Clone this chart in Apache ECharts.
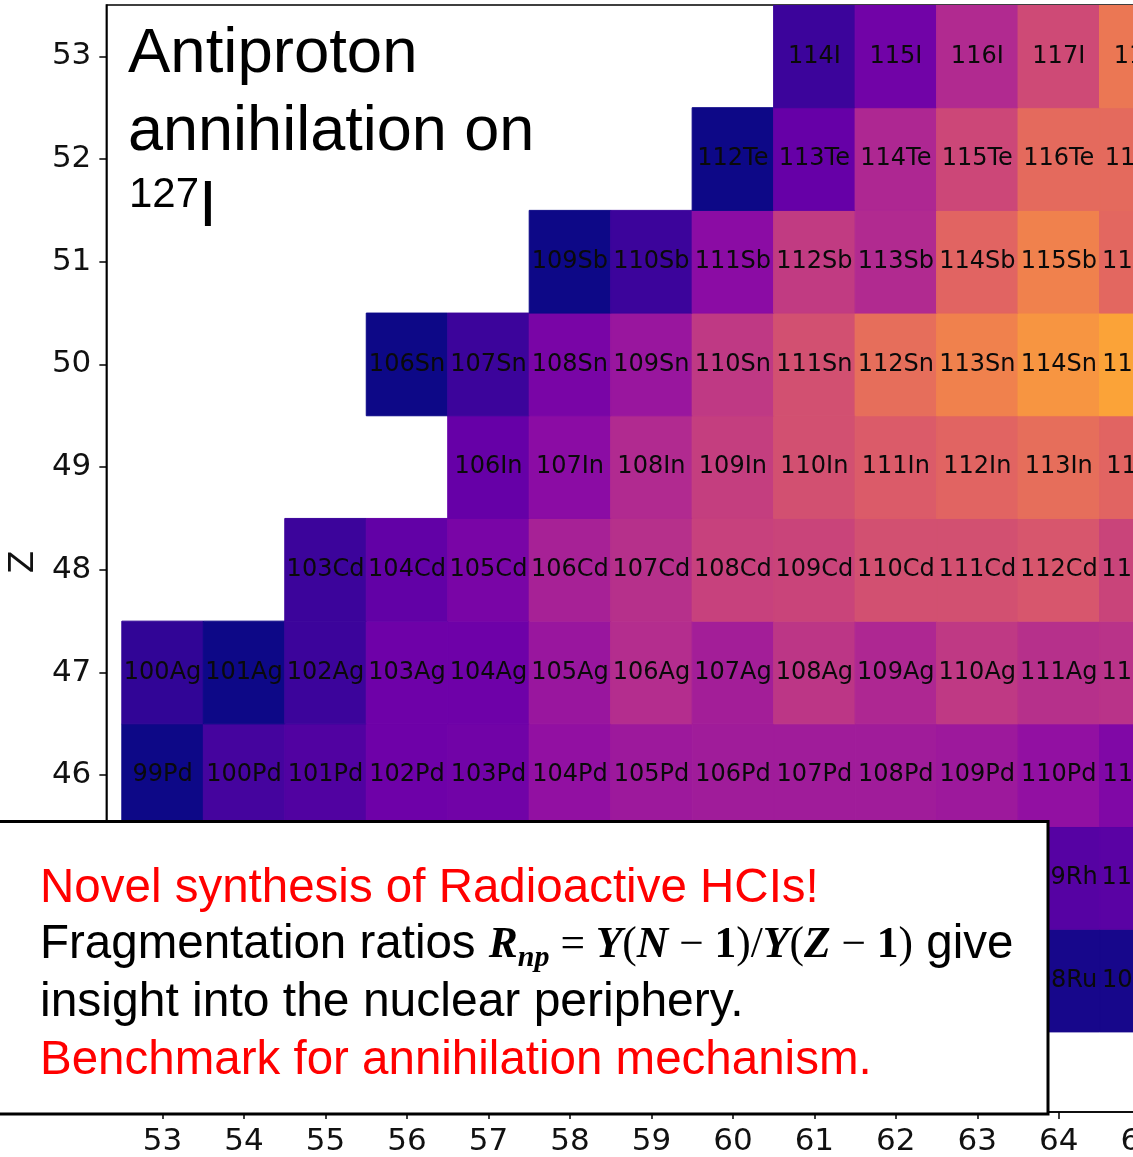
<!DOCTYPE html>
<html>
<head>
<meta charset="utf-8">
<title>Antiproton annihilation on 127I</title>
<script src="https://cdn.jsdelivr.net/npm/echarts@6/dist/echarts.min.js"></script>
<style>
  html, body { margin: 0; padding: 0; background: #fff; overflow: hidden; }
  #frame { width: 1133px; height: 1157px; overflow: hidden; position: relative; }
  #chart { width: 1400px; height: 1157px; position: absolute; left: 0; top: 0; }
</style>
</head>
<body>
<div id="frame"><div id="chart"></div></div>
<script>
// Axis tick values: neutron number N (x) and proton number Z (y)
const nTicks = [53, 54, 55, 56, 57, 58, 59, 60, 61, 62, 63, 64, 65, 66];
const zTicks = [43, 44, 45, 46, 47, 48, 49, 50, 51, 52, 53];

// One row per element: symbol, proton number and first neutron number shown
const symbols = ['Ru', 'Rh', 'Pd', 'Ag', 'Cd', 'In', 'Sn', 'Sb', 'Te', 'I'];
const protonNumbers = [44, 45, 46, 47, 48, 49, 50, 51, 52, 53];
const firstN = [64, 64, 53, 53, 55, 57, 56, 58, 60, 61];

// Normalised fragment yields (log scale, 0 = lowest, 1 = highest), consecutive N
const yieldRu = [0.02, 0.02];
const yieldRh = [0.15, 0.16];
const yieldPd = [0.00, 0.11, 0.14, 0.21, 0.22, 0.31, 0.34, 0.35, 0.35, 0.35, 0.34, 0.31, 0.26];
const yieldAg = [0.07, 0.00, 0.09, 0.21, 0.21, 0.33, 0.41, 0.36, 0.44, 0.39, 0.45, 0.42, 0.43];
const yieldCd = [0.09, 0.18, 0.24, 0.37, 0.42, 0.48, 0.49, 0.53, 0.53, 0.55, 0.49];
const yieldIn = [0.19, 0.29, 0.40, 0.47, 0.53, 0.57, 0.60, 0.63, 0.60];
const yieldSn = [0.00, 0.09, 0.24, 0.33, 0.45, 0.53, 0.63, 0.69, 0.75, 0.79];
const yieldSb = [0.00, 0.09, 0.29, 0.46, 0.40, 0.60, 0.69, 0.61];
const yieldTe = [0.00, 0.19, 0.39, 0.50, 0.62, 0.62];
const yieldI  = [0.09, 0.22, 0.40, 0.51, 0.66];
const yieldRows = [yieldRu, yieldRh, yieldPd, yieldAg, yieldCd, yieldIn, yieldSn, yieldSb, yieldTe, yieldI];

// matplotlib "plasma" colour map
const plasma = ['#0d0887', '#41049d', '#6a00a8', '#8f0da4', '#b12a90', '#cc4778',
                '#e16462', '#f2844b', '#fca636', '#fcce25', '#f0f921'];

const symbolByZ = {};
protonNumbers.forEach((z, i) => { symbolByZ[z] = symbols[i]; });

// [N, Z, yield]
const cells = [];
yieldRows.forEach((row, i) => {
  row.forEach((v, j) => cells.push([firstN[i] + j, protonNumbers[i], v]));
});

const SANS = 'Liberation Sans, Arial, Helvetica, sans-serif';
const SERIF = 'Liberation Serif, Times New Roman, serif';
const TICK_FONT = 'DejaVu Sans, sans-serif';

// Lay out a run of text pieces on one baseline, measuring each piece
const measureCtx = document.createElement('canvas').getContext('2d');
function layoutLine(pieces, x0, baseline, color) {
  let x = x0;
  const out = [];
  pieces.forEach(p => {
    const style = p.style || 'normal';
    const weight = p.weight || 'normal';
    measureCtx.font = style + ' ' + weight + ' ' + p.size + 'px ' + p.family;
    const w = measureCtx.measureText(p.text).width;
    out.push({
      type: 'text', x: x, y: baseline + (p.dy || 0) - 0.30 * p.size, z: 100,
      style: {
        text: p.text, fontSize: p.size, fontFamily: p.family, fontWeight: weight,
        fontStyle: style, fill: p.color || color, align: 'left', verticalAlign: 'middle'
      }
    });
    x += w;
  });
  return out;
}

const M = 43.5;   // formula size
const T = 47.5;   // box text size
const bi = { family: SERIF, size: M, weight: 'bold', style: 'italic' };
const rg = { family: SERIF, size: M };

const overlay = [].concat(
  // Title
  layoutLine([{ text: 'Antiproton', family: SANS, size: 63.5 }], 128, 74, '#000'),
  layoutLine([{ text: 'annihilation on', family: SANS, size: 63 }], 128, 152, '#000'),
  layoutLine([
    { text: '127', family: SANS, size: 42, dy: -20 },
    { text: 'I', family: SANS, size: 64 }
  ], 129, 228, '#000'),
  // Summary box
  [{
    type: 'rect', z: 99,
    shape: { x: -10, y: 821.5, width: 1058, height: 292.5 },
    style: { fill: '#fff', stroke: '#000', lineWidth: 3 }
  }],
  layoutLine([{ text: 'Novel synthesis of Radioactive HCIs!', family: SANS, size: T }], 40, 903, '#ff0000'),
  layoutLine([
    { text: 'Fragmentation ratios ', family: SANS, size: T },
    Object.assign({ text: 'R' }, bi),
    { text: 'np', family: SERIF, size: 30, weight: 'bold', style: 'italic', dy: 8 },
    Object.assign({ text: ' = ' }, rg),
    Object.assign({ text: 'Y' }, bi), Object.assign({ text: '(' }, rg),
    Object.assign({ text: 'N' }, bi), Object.assign({ text: ' \u2212 ' }, rg),
    { text: '1', family: SERIF, size: M, weight: 'bold' }, Object.assign({ text: ')' }, rg),
    Object.assign({ text: '/' }, rg),
    Object.assign({ text: 'Y' }, bi), Object.assign({ text: '(' }, rg),
    Object.assign({ text: 'Z' }, bi), Object.assign({ text: ' \u2212 ' }, rg),
    { text: '1', family: SERIF, size: M, weight: 'bold' }, Object.assign({ text: ')' }, rg),
    { text: ' give', family: SANS, size: T }
  ], 40, 959, '#000'),
  layoutLine([{ text: 'insight into the nuclear periphery.', family: SANS, size: 48 }], 40, 1017, '#000'),
  layoutLine([{ text: 'Benchmark for annihilation mechanism.', family: SANS, size: T }], 40, 1075, '#ff0000')
);

const N_MIN = 52.31, N_MAX = 66.5, Z_MIN = 42.72, Z_MAX = 53.5;
const PX_N = 81.64, PX_Z = 102.86;

const chart = echarts.init(document.getElementById('chart'), null, { renderer: 'canvas' });
chart.setOption({
  animation: false,
  backgroundColor: '#fff',
  grid: {
    left: 104, top: 5,
    width: (N_MAX - N_MIN) * PX_N,
    height: (Z_MAX - Z_MIN) * PX_Z,
    show: true, borderColor: '#000', borderWidth: 1.5, backgroundColor: 'transparent'
  },
  xAxis: {
    type: 'value', min: N_MIN, max: N_MAX,
    axisLine: { show: true, lineStyle: { color: '#000', width: 1.5 } },
    axisTick: { show: true, length: 7, customValues: nTicks, lineStyle: { color: '#000', width: 1.5 } },
    axisLabel: { customValues: nTicks, fontSize: 31, fontFamily: TICK_FONT, color: '#111', margin: 14 },
    splitLine: { show: false }
  },
  yAxis: {
    type: 'value', min: Z_MIN, max: Z_MAX,
    name: 'Z', nameLocation: 'middle', nameGap: 58,
    nameTextStyle: { fontSize: 33, fontFamily: TICK_FONT, color: '#111', padding: [0, 7, 0, 0] },
    axisLine: { show: true, lineStyle: { color: '#000', width: 1.5 } },
    axisTick: { show: true, length: 7, customValues: zTicks, lineStyle: { color: '#000', width: 1.5 } },
    axisLabel: { customValues: zTicks, fontSize: 31, fontFamily: TICK_FONT, color: '#111', margin: 15 },
    splitLine: { show: false }
  },
  visualMap: {
    show: false, type: 'continuous', min: 0, max: 1, dimension: 2, seriesIndex: 0,
    inRange: { color: plasma }
  },
  series: [{
    type: 'custom',
    clip: true,
    encode: { x: 0, y: 1 },
    data: cells,
    renderItem: function (params, api) {
      const n = api.value(0), z = api.value(1);
      const p0 = api.coord([n - 0.5, z + 0.5]);
      const p1 = api.coord([n + 0.5, z - 0.5]);
      const color = api.visual('color');
      return {
        type: 'rect',
        shape: { x: p0[0], y: p0[1], width: p1[0] - p0[0], height: p1[1] - p0[1] },
        style: { fill: color, stroke: color, lineWidth: 1 },
        textContent: {
          style: {
            text: (n + z) + symbolByZ[z],
            fontSize: 24, fontFamily: TICK_FONT, fill: '#0a0a0a'
          }
        },
        textConfig: { position: 'inside' }
      };
    }
  }],
  graphic: { elements: overlay }
});
</script>
</body>
</html>
